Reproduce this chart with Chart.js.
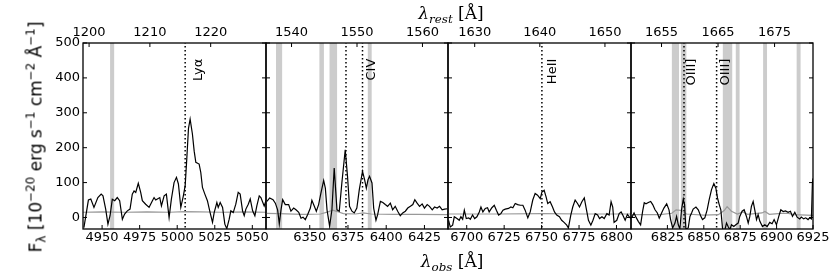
<!DOCTYPE html>
<html lang="en">
<head>
<meta charset="UTF-8">
<title>Emission lines, observed vs rest frame</title>
<script src="https://cdn.jsdelivr.net/npm/chart.js@4.4.1/dist/chart.umd.min.js"></script>
<style>
    body {
        margin: 0;
        background: #fff;
        font-family: "DejaVu Sans", sans-serif;
    }
    #wrap {
        position: relative;
        width: 830px;
        height: 277px;
    }
    #wrap canvas {
        position: absolute;
        left: 0;
        top: 0;
    }
    .axtitle {
        position: absolute;
        transform: translate(-50%, -50%);
        font-family: "DejaVu Serif", serif;
        font-size: 17px;
        white-space: nowrap;
        line-height: 1;
    }
    #top-title { left: 451px; top: 13px; }
    #bottom-title { left: 452px; top: 261px; }
    #ytitle {
        position: absolute;
        left: 36px;
        top: 137px;
        transform: translate(-50%, -50%) rotate(-90deg);
        font-size: 17px;
        white-space: nowrap;
        line-height: 1;
    }
    sup, sub {
        font-size: 70%;
        position: relative;
        vertical-align: baseline;
        line-height: 0;
    }
    sup { top: -0.55em; }
    sub { top: 0.3em; }
</style>
</head>
<body>
<div id="wrap">
    <canvas id="c1" width="830" height="277"></canvas>
    <canvas id="c2" width="830" height="277"></canvas>
    <canvas id="c3" width="830" height="277"></canvas>
    <canvas id="c4" width="830" height="277"></canvas>
    <div class="axtitle" id="top-title"><i>λ</i><sub><i>rest</i></sub> [Å]</div>
    <div class="axtitle" id="bottom-title"><i>λ</i><sub><i>obs</i></sub> [Å]</div>
    <div id="ytitle">F<sub>λ</sub> [10<sup>−20</sup> erg s<sup>−1</sup> cm<sup>−2</sup> Å<sup>−1</sup>]</div>
</div>

<script>
    Chart.defaults.font.family = '"DejaVu Sans", sans-serif';
    Chart.defaults.font.size = 13;
    Chart.defaults.color = '#000';

    // shared flux axis
    const yTicks = [0, 100, 200, 300, 400, 500];
    const yMin = -33, yMax = 500;

    // axis ranges and tick labels per panel
    const obsRange1 = [4937.3, 5059.1], restRange1 = [1199.0, 1229.1];
    const obsRange2 = [6321.4, 6440.4], restRange2 = [1536.1, 1563.9];
    const obsRange3 = [6687.5, 6809.7], restRange3 = [1625.9, 1654.0];
    const obsRange4 = [6800.0, 6925.0], restRange4 = [1649.6, 1681.8];

    const obsTicks1 = [4950, 4975, 5000, 5025, 5050], restTicks1 = [1200, 1210, 1220];
    const obsTicks2 = [6350, 6375, 6400, 6425], restTicks2 = [1540, 1550, 1560];
    const obsTicks3 = [6700, 6725, 6750, 6775, 6800], restTicks3 = [1630, 1640, 1650];
    const obsTicks4 = [6825, 6850, 6875, 6900, 6925], restTicks4 = [1655, 1665, 1675];

    // spectrum [observed wavelength, flux]
    const spec1 = [[4937.9,-29],[4940.9,50],[4942.5,53],[4944.6,29],[4947.2,57],[4949.4,67],[4950.6,62],[4952.4,24],
        [4953.9,-19],[4955.3,5],[4956.8,52],[4958.4,48],[4960.1,57],[4961.7,48],[4963.5,-5],[4965.0,10],[4966.8,19],
        [4968.6,24],[4970.1,67],[4971.3,76],[4972.4,72],[4974.1,98],[4975.7,72],[4976.8,48],[4979.0,38],[4981.3,29],
        [4983.5,48],[4984.6,57],[4985.7,50],[4986.8,53],[4988.4,57],[4989.5,33],[4991.3,62],[4992.8,67],[4994.6,0],
        [4996.1,52],[4997.9,100],[4999.5,115],[5000.8,96],[5002.4,29],[5004.1,62],[5005.3,91],[5006.4,170],[5007.5,255],
        [5008.6,282],[5010.1,240],[5011.3,190],[5012.4,158],[5014.6,153],[5015.7,129],[5016.8,86],[5018.4,67],[5020.1,48],
        [5021.9,14],[5023.5,-14],[5024.6,14],[5026.4,43],[5027.3,29],[5028.6,43],[5030.2,29],[5031.7,-19],[5033.0,-32],
        [5034.6,-5],[5035.7,19],[5037.3,14],[5039.0,38],[5040.6,72],[5041.9,67],[5043.5,19],[5044.6,5],[5045.7,24],
        [5047.3,38],[5048.6,53],[5050.2,19],[5051.7,5],[5053.0,33],[5054.6,62],[5055.7,57],[5057.9,33],[5059.1,48]];
    const spec2 = [[6322.0,46],[6323.8,56],[6326.0,51],[6327.5,41],[6329.0,22],[6330.1,-18],[6331.2,22],[6332.3,51],
        [6334.0,37],[6336.2,37],[6337.7,18],[6339.5,27],[6341.0,22],[6342.8,15],[6344.3,-2],[6345.6,1],[6347.1,-6],
        [6348.6,8],[6350.4,27],[6351.4,49],[6353.0,32],[6354.3,18],[6355.8,37],[6357.3,70],[6359.1,106],[6360.2,84],
        [6361.3,22],[6363.0,-25],[6364.5,22],[6366.0,142],[6367.8,22],[6369.3,18],[6371.0,99],[6373.2,194],[6374.7,118],
        [6376.0,32],[6377.6,18],[6379.1,13],[6380.8,27],[6382.4,80],[6384.5,132],[6385.9,108],[6387.0,84],[6388.1,108],
        [6389.1,118],[6390.7,99],[6391.8,27],[6393.3,-8],[6394.4,8],[6396.2,46],[6397.8,43],[6399.4,37],[6400.9,32],
        [6402.7,41],[6404.2,22],[6405.9,32],[6407.5,18],[6409.2,5],[6410.8,13],[6412.5,18],[6414.1,27],[6415.8,32],
        [6417.4,37],[6418.7,51],[6420.2,41],[6421.8,32],[6423.5,39],[6425.0,27],[6426.8,37],[6428.3,32],[6430.1,22],
        [6431.6,30],[6433.3,27],[6434.9,32],[6436.6,22],[6438.2,24],[6440.0,25]];
    const spec3 = [[6687.9,-8],[6689.0,-27],[6690.6,-22],[6691.7,2],[6693.5,-3],[6695.0,-8],[6696.1,2],[6697.3,-5],
        [6698.4,21],[6699.7,-3],[6701.3,-1],[6702.4,-5],[6703.9,7],[6705.3,-3],[6706.8,2],[6708.4,16],[6709.5,30],
        [6710.8,16],[6712.4,26],[6713.9,28],[6715.0,16],[6716.8,28],[6718.4,35],[6719.8,21],[6721.3,7],[6722.8,11],
        [6724.2,21],[6725.7,24],[6727.9,26],[6729.5,30],[6730.8,28],[6732.4,40],[6734.0,37],[6735.8,35],[6737.5,35],
        [6739.0,21],[6740.8,-1],[6742.4,16],[6744.1,50],[6745.7,69],[6747.3,64],[6749.1,54],[6750.2,73],[6751.7,78],
        [6753.0,59],[6754.1,40],[6755.7,45],[6757.3,30],[6758.6,16],[6760.1,7],[6761.9,2],[6763.4,-8],[6765.0,-14],
        [6766.8,-22],[6767.9,-30],[6769.5,7],[6770.8,30],[6772.4,50],[6774.0,40],[6775.3,30],[6776.9,45],[6778.5,56],
        [6779.8,26],[6781.3,-8],[6782.9,-22],[6784.3,-8],[6785.8,11],[6787.4,7],[6788.7,-3],[6790.3,2],[6791.8,-3],
        [6793.6,11],[6795.1,7],[6796.4,45],[6797.5,30],[6798.4,-14],[6800.2,-8],[6801.8,11],[6803.1,16],[6804.2,7],
        [6805.8,-8],[6807.3,9],[6808.6,2],[6809.6,-3]];
    const spec4 = [[6800.5,-1],[6802.1,13],[6803.4,1],[6805.0,-11],[6806.6,-21],[6808.0,18],[6809.1,42],[6810.3,39],
        [6811.9,43],[6813.5,46],[6814.9,37],[6816.5,22],[6818.1,13],[6819.4,-2],[6821.0,13],[6822.6,27],[6824.5,39],
        [6826.1,22],[6827.2,-6],[6828.6,-30],[6830.2,-16],[6831.3,3],[6832.5,-21],[6833.6,-33],[6834.7,22],[6835.9,53],
        [6836.8,37],[6837.7,-33],[6839.3,-30],[6840.5,3],[6841.6,13],[6842.7,24],[6844.6,30],[6846.2,22],[6847.8,5],
        [6849.1,-6],[6850.7,-1],[6852.3,22],[6853.7,51],[6855.3,80],[6856.9,97],[6858.3,84],[6859.4,56],[6860.6,37],
        [6861.7,22],[6862.9,-33],[6864.5,-35],[6865.6,-16],[6866.7,-26],[6867.9,-35],[6869.0,-21],[6870.6,-26],
        [6872.0,-21],[6873.6,-16],[6874.7,3],[6876.3,18],[6877.7,22],[6879.3,3],[6880.5,-16],[6881.6,3],[6882.7,32],
        [6883.9,46],[6885.0,22],[6886.2,-6],[6887.3,8],[6888.5,-11],[6890.3,-26],[6891.9,-21],[6893.5,-26],[6895.3,-14],
        [6896.9,-18],[6898.3,-6],[6899.9,-21],[6901.5,3],[6902.9,22],[6904.5,17],[6906.1,19],[6907.9,15],[6909.5,18],
        [6910.9,3],[6912.5,15],[6914.1,1],[6915.9,-4],[6917.0,1],[6918.6,-4],[6920.0,-1],[6921.6,-6],[6922.7,-1],
        [6923.9,-4],[6924.6,99],[6925.0,112]];

    // error spectrum (grey)
    const noise1 = [[4937.3,15],[4950,16],[4965,15],[4980,16],[4995,15],[5005,17],[5015,16],[5030,15],[5045,16],[5059.1,15]];
    const noise2 = [[6321.4,12],[6330,11],[6345,9],[6357,10],[6362,16],[6365,21],[6368,17],[6372,11],[6380,10],
        [6385,13],[6390,10],[6405,9],[6420,9],[6440.4,8]];
    const noise3 = [[6687.5,10],[6720,10],[6750,11],[6780,10],[6809.7,10]];
    const noise4 = [[6800,8],[6820,8],[6828,12],[6831,22],[6835,20],[6838,10],[6850,7],[6860,8],[6864,20],[6866,31],
        [6869,18],[6873,10],[6877,16],[6880,9],[6890,13],[6892,17],[6895,9],[6903,12],[6908,12],[6912,8],[6925,6]];

    // masked sky regions [from, to] in observed wavelength
    const bands1 = [[4955.3, 4958.2]];
    const bands2 = [[6327.9, 6332.1], [6356.2, 6359.3], [6362.8, 6368.0], [6387.8, 6390.6]];
    const bands3 = [];
    const bands4 = [[6827.9, 6833.1], [6834.1, 6838.2], [6862.9, 6869.7], [6871.8, 6874.7], [6890.7, 6893.5], [6913.6, 6916.6]];

    // line markers
    const lines1 = [5005.3], lineNames1 = ['Lyα'], labelAt1 = [5005.3];
    const lines2 = [6373.7, 6384.5], lineNames2 = ['CIV'], labelAt2 = [6384.5];
    const lines3 = [6750.2], lineNames3 = ['HeII'], labelAt3 = [6750.2];
    const lines4 = [6836.4, 6858.8], lineNames4 = ['OIII]', 'OIII]'], labelAt4 = [6836.4, 6858.8];

    // frame, inward ticks and line names
    const frameTicks = {
        id: 'frameTicks',
        afterDatasetsDraw(chart, args, opts) {
            const { ctx, chartArea: a, scales } = chart;
            const len = 4;
            ctx.save();
            ctx.strokeStyle = '#000';
            ctx.lineWidth = 1;
            ctx.beginPath();
            scales.x.ticks.forEach(t => {
                const px = scales.x.getPixelForValue(t.value);
                ctx.moveTo(px, a.bottom);
                ctx.lineTo(px, a.bottom - len);
            });
            scales.x2.ticks.forEach(t => {
                const px = scales.x2.getPixelForValue(t.value);
                ctx.moveTo(px, a.top);
                ctx.lineTo(px, a.top + len);
            });
            scales.y.ticks.forEach(t => {
                const py = scales.y.getPixelForValue(t.value);
                ctx.moveTo(a.left, py);
                ctx.lineTo(a.left + len, py);
                ctx.moveTo(a.right, py);
                ctx.lineTo(a.right - len, py);
            });
            ctx.stroke();
            ctx.lineWidth = 1.3;
            ctx.strokeRect(a.left, a.top, a.right - a.left, a.bottom - a.top);

            ctx.fillStyle = '#000';
            ctx.font = '13px "DejaVu Sans", sans-serif';
            ctx.textAlign = 'right';
            ctx.textBaseline = 'alphabetic';
            opts.labels.forEach(l => {
                const px = scales.x.getPixelForValue(l.x) + l.shift;
                const py = scales.y.getPixelForValue(opts.labelY);
                ctx.save();
                ctx.translate(px, py);
                ctx.rotate(-Math.PI / 2);
                ctx.fillText(l.text, 0, 0);
                ctx.restore();
            });
            ctx.restore();
        }
    };

    const panels = [
        { id: 'c1', spec: spec1, noise: noise1, bands: bands1, lines: lines1, names: lineNames1, labelAt: labelAt1,
          obs: obsRange1, rest: restRange1, obsTicks: obsTicks1, restTicks: restTicks1 },
        { id: 'c2', spec: spec2, noise: noise2, bands: bands2, lines: lines2, names: lineNames2, labelAt: labelAt2,
          obs: obsRange2, rest: restRange2, obsTicks: obsTicks2, restTicks: restTicks2 },
        { id: 'c3', spec: spec3, noise: noise3, bands: bands3, lines: lines3, names: lineNames3, labelAt: labelAt3,
          obs: obsRange3, rest: restRange3, obsTicks: obsTicks3, restTicks: restTicks3 },
        { id: 'c4', spec: spec4, noise: noise4, bands: bands4, lines: lines4, names: lineNames4, labelAt: labelAt4,
          obs: obsRange4, rest: restRange4, obsTicks: obsTicks4, restTicks: restTicks4 }
    ];

    // placement of each panel's plot box on the page
    const boxes = [
        { left: 83, right: 266, shifts: [17] },
        { left: 266, right: 448, shifts: [12.5] },
        { left: 448, right: 631, shifts: [14] },
        { left: 631, right: 813, shifts: [11, 12] }
    ];

    function makePanel(p, box, showY) {
        const datasets = [];
        p.bands.forEach(b => datasets.push({
            data: [{ x: b[0], y: 2000 }, { x: b[1], y: 2000 }],
            fill: { value: -2000 }, backgroundColor: '#cccccc',
            borderWidth: 0, pointRadius: 0, order: 3, clip: 0
        }));
        p.lines.forEach(x => datasets.push({
            data: [{ x: x, y: -2000 }, { x: x, y: 2000 }],
            borderColor: '#000', borderWidth: 1.5, borderDash: [1.5, 2.5],
            pointRadius: 0, order: 2, clip: 0
        }));
        datasets.push({
            data: p.noise.map(d => ({ x: d[0], y: d[1] })),
            borderColor: '#999999', borderWidth: 1.2, pointRadius: 0, order: 1, clip: 0
        });
        datasets.push({
            data: p.spec.map(d => ({ x: d[0], y: d[1] })),
            borderColor: '#000', borderWidth: 1.2, pointRadius: 0, order: 0, clip: 0
        });

        const labels = p.names.map((t, i) => ({ text: t, x: p.labelAt[i], shift: box.shifts[i] }));
        const tickFont = { size: 13 };
        const noGrid = { display: false, drawTicks: false };

        new Chart(document.getElementById(p.id), {
            type: 'line',
            data: { datasets },
            options: {
                responsive: false,
                animation: false,
                events: [],
                layout: { padding: { left: 0, right: 830 - box.right, top: 0, bottom: 0 } },
                plugins: {
                    legend: { display: false },
                    tooltip: { enabled: false },
                    frameTicks: { labels: labels, labelY: 455 }
                },
                scales: {
                    x: {
                        type: 'linear', position: 'bottom', min: p.obs[0], max: p.obs[1],
                        grid: noGrid, border: { display: false },
                        ticks: { padding: 1, font: tickFont, maxRotation: 0, autoSkip: false, callback: v => String(v) },
                        afterBuildTicks: s => { s.ticks = p.obsTicks.map(v => ({ value: v })); },
                        afterFit: s => { s.height = 48; s.paddingLeft = 0; s.paddingRight = 0; }
                    },
                    x2: {
                        type: 'linear', position: 'top', min: p.rest[0], max: p.rest[1],
                        grid: noGrid, border: { display: false },
                        ticks: { padding: 3, font: tickFont, maxRotation: 0, autoSkip: false, callback: v => String(v) },
                        afterBuildTicks: s => { s.ticks = p.restTicks.map(v => ({ value: v })); },
                        afterFit: s => { s.height = 43; s.paddingLeft = 0; s.paddingRight = 0; }
                    },
                    y: {
                        type: 'linear', position: 'left', min: yMin, max: yMax,
                        grid: noGrid, border: { display: false },
                        ticks: { display: showY, padding: 3, font: tickFont, callback: v => String(v) },
                        afterBuildTicks: s => { s.ticks = yTicks.map(v => ({ value: v })); },
                        afterFit: s => { s.width = box.left; s.paddingTop = 0; s.paddingBottom = 0; }
                    }
                }
            },
            plugins: [frameTicks]
        });
    }

    panels.forEach((p, i) => makePanel(p, boxes[i], i === 0));
</script>
</body>
</html>
